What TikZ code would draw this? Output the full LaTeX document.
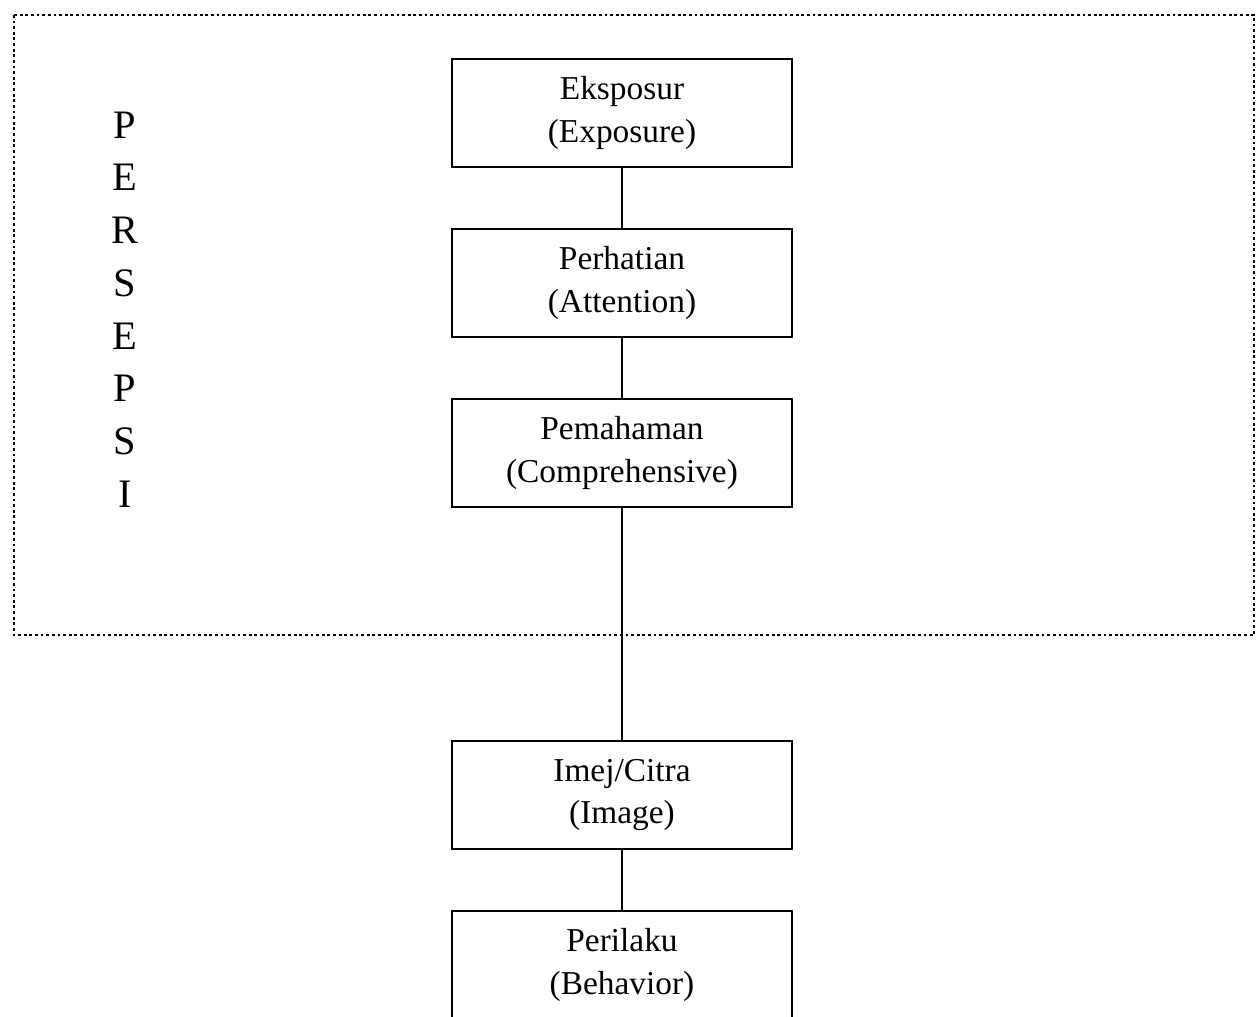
\documentclass[tikz,border=0pt]{standalone}
\usepackage{fontspec}
\setmainfont{Liberation Serif}
\begin{document}
\begin{tikzpicture}[every node/.style={draw,line width=1.1pt,minimum width=6.8cm,minimum height=2.16cm,
	align=center,font=\fontsize{19}{24}\selectfont,inner sep=2pt},
	edge from parent/.style={draw,line width=1.1pt},
	level/.style={level distance=3.4cm},
	level 3/.style={level distance=6.84cm}]
\useasboundingbox (0,0) rectangle (25.18,-20.32);
\draw[line width=1pt,dash pattern=on 1.6pt off 1.6pt] (0.28,-0.30) rectangle (25.08,-12.70);
\foreach \ch [count=\i from 0] in {P,E,R,S,E,P,S,I}
	\node[draw=none,minimum width=0pt,minimum height=0pt,font=\fontsize{23}{24}\selectfont] (persepsi\i) at (2.50,{-2.50-1.054*\i}) {\ch};
\node (eksposur) at (12.44,-2.26) {Eksposur\\(Exposure)}
child {node (perhatian) {Perhatian\\(Attention)}
	child {node (pemahaman) {Pemahaman\\(Comprehensive)}
		child {node (imej) {Imej/Citra\\(Image)}
			child {node (perilaku) {Perilaku\\(Behavior)}}
			}
		}
	};
\end{tikzpicture}
\end{document}
